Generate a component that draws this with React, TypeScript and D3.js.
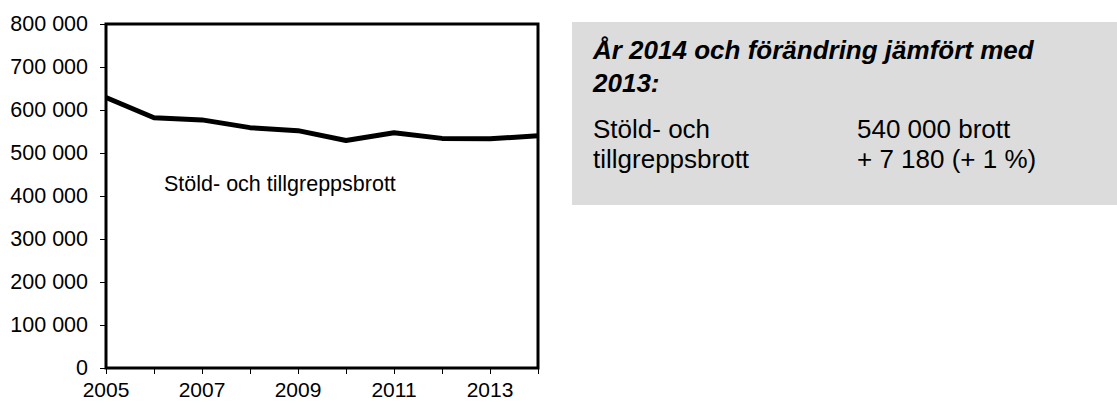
import React, { useEffect, useRef } from "react";
import * as d3 from "d3";

const years = [2005, 2006, 2007, 2008, 2009, 2010, 2011, 2012, 2013, 2014];
const thefts = [629000, 582000, 577000, 559000, 552000, 529000, 547000, 534000, 533000, 540000];
const yTicks = [0, 100000, 200000, 300000, 400000, 500000, 600000, 700000, 800000];
const xLabelYears = [2005, 2007, 2009, 2011, 2013];

const seriesLabel = "Stöld- och tillgreppsbrott";
const boxTitle = ["År 2014 och förändring jämfört med", "2013:"];
const boxLeft = ["Stöld- och", "tillgreppsbrott"];
const boxRight = ["540 000 brott", "+ 7 180 (+ 1 %)"];

const fmt = (v: number) => d3.format(",")(v).replace(/,/g, " ");

export default function App() {
  const ref = useRef<SVGSVGElement>(null);

  useEffect(() => {
    const svg = d3.select(ref.current);
    svg.selectAll("*").remove();

    const margin = { top: 24, left: 106 };
    const width = 432;
    const height = 344;
    const font = "Arial, 'Liberation Sans', sans-serif";

    const x = d3.scaleLinear().domain([2005, 2014]).range([0, width]);
    const y = d3.scaleLinear().domain([0, 800000]).range([height, 0]);

    const g = svg.append("g").attr("transform", `translate(${margin.left},${margin.top})`);

    // y axis
    const yAxis = g
      .append("g")
      .call(d3.axisLeft(y).tickValues(yTicks).tickSize(6).tickSizeOuter(0).tickFormat((d) => fmt(+d)));
    yAxis.select(".domain").remove();
    yAxis.selectAll("line").attr("stroke", "#000");
    yAxis
      .selectAll("text")
      .attr("x", -18)
      .style("font-family", font)
      .style("font-size", "21.5px")
      .attr("fill", "#000");

    // x axis
    const xAxis = g
      .append("g")
      .attr("transform", `translate(0,${height})`)
      .call(d3.axisBottom(x).tickValues(years).tickSize(6).tickSizeOuter(0).tickFormat(() => ""));
    xAxis.select(".domain").remove();
    xAxis.selectAll("line").attr("stroke", "#000");

    g.append("g")
      .selectAll("text")
      .data(xLabelYears)
      .join("text")
      .attr("x", (d) => x(d))
      .attr("y", height + 29)
      .attr("text-anchor", "middle")
      .style("font-family", font)
      .style("font-size", "21px")
      .text((d) => d);

    // frame
    g.append("rect")
      .attr("width", width)
      .attr("height", height)
      .attr("fill", "none")
      .attr("stroke", "#000")
      .attr("stroke-width", 3);

    // line
    const line = d3
      .line<number>()
      .x((_, i) => x(years[i]))
      .y((d) => y(d));
    g.append("path")
      .datum(thefts)
      .attr("d", line)
      .attr("fill", "none")
      .attr("stroke", "#000")
      .attr("stroke-width", 5)
      .attr("stroke-linejoin", "round");

    g.append("text")
      .attr("x", 58)
      .attr("y", 167)
      .style("font-family", font)
      .style("font-size", "21.5px")
      .text(seriesLabel);

    // info box
    const box = svg.append("g");
    box.append("rect").attr("x", 572).attr("y", 22).attr("width", 545).attr("height", 183).attr("fill", "#dcdcdc");

    box
      .selectAll("text.title")
      .data(boxTitle)
      .join("text")
      .attr("class", "title")
      .attr("x", 593)
      .attr("y", (_, i) => 59 + i * 33)
      .style("font-family", font)
      .style("font-size", "26px")
      .style("font-weight", "bold")
      .style("font-style", "italic")
      .text((d) => d);

    box
      .selectAll("text.left")
      .data(boxLeft)
      .join("text")
      .attr("class", "left")
      .attr("x", 593)
      .attr("y", (_, i) => 138 + i * 30)
      .style("font-family", font)
      .style("font-size", "26px")
      .text((d) => d);

    box
      .selectAll("text.right")
      .data(boxRight)
      .join("text")
      .attr("class", "right")
      .attr("x", 857)
      .attr("y", (_, i) => 138 + i * 30)
      .style("font-family", font)
      .style("font-size", "26px")
      .text((d) => d);
  }, []);

  return (
    <svg
      ref={ref}
      width={1117}
      height={403}
      style={{ position: "absolute", left: 0, top: 0, background: "#fff" }}
    />
  );
}
